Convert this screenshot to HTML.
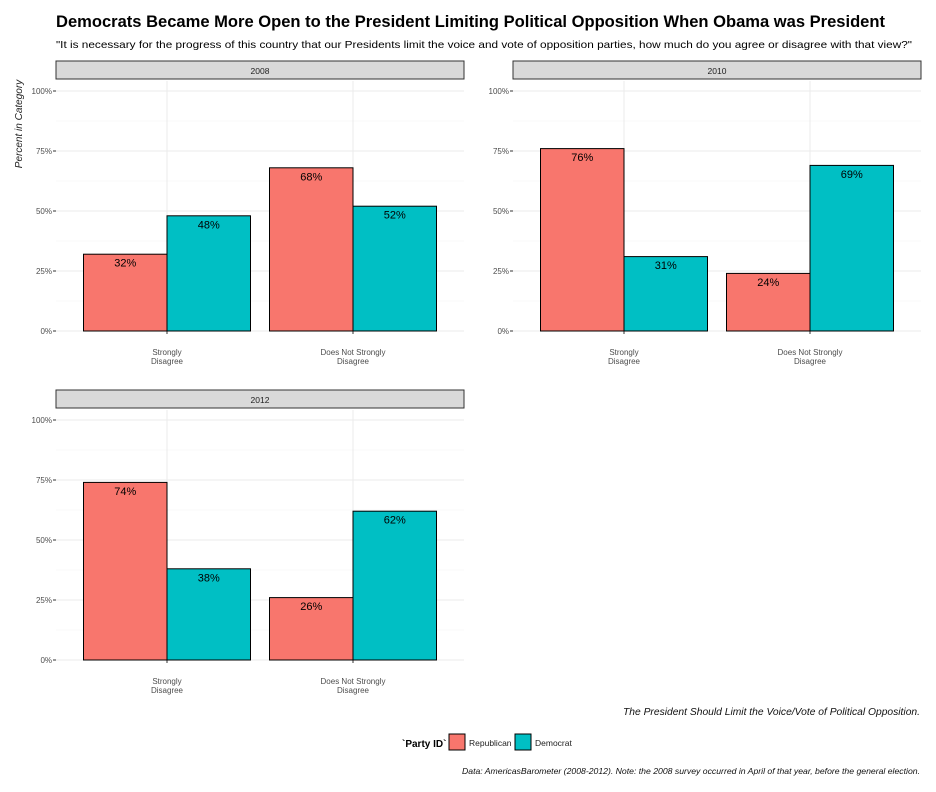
<!DOCTYPE html>
<html><head><meta charset="utf-8"><style>
body{margin:0;background:#fff;}
svg{display:block;font-family:"Liberation Sans",sans-serif;}
</style></head><body>
<svg id="chart" width="936" height="792">
<text x="56" y="27" font-size="17" font-weight="bold" fill="#000" textLength="829" lengthAdjust="spacingAndGlyphs">Democrats Became More Open to the President Limiting Political Opposition When Obama was President</text>
<text x="56" y="48" font-size="10.5" fill="#000" textLength="856" lengthAdjust="spacingAndGlyphs">"It is necessary for the progress of this country that our Presidents limit the voice and vote of opposition parties, how much do you agree or disagree with that view?"</text>
<text transform="translate(22,124) rotate(-90)" text-anchor="middle" font-size="10" font-style="italic" fill="#222">Percent in Category</text>
<text x="920" y="715" text-anchor="end" font-size="10" font-style="italic" fill="#111" textLength="297" lengthAdjust="spacingAndGlyphs">The President Should Limit the Voice/Vote of Political Opposition.</text>
<g>
<text x="402" y="747" font-size="10" font-weight="bold" fill="#000">`Party ID`</text>
<rect x="449" y="734" width="16" height="16" fill="#F8766D" stroke="#000"/>
<text x="469" y="746" font-size="8.5" fill="#222">Republican</text>
<rect x="515" y="734" width="16" height="16" fill="#00BFC4" stroke="#000"/>
<text x="535" y="746" font-size="8.5" fill="#222">Democrat</text>
</g>
<text x="920" y="774" text-anchor="end" font-size="8.5" font-style="italic" fill="#111" textLength="458" lengthAdjust="spacingAndGlyphs">Data: AmericasBarometer (2008-2012). Note: the 2008 survey occurred in April of that year, before the general election.</text>
</svg>
<script>
const years = ["2008","2010","2012"];
const categories = [["Strongly","Disagree"],["Does Not Strongly","Disagree"]];
const republican = [[32,68],[76,24],[74,26]];
const democrat = [[48,52],[31,69],[38,62]];
const ticks = [0,25,50,75,100];
const tickLabels = ["0%","25%","50%","75%","100%"];

const NS="http://www.w3.org/2000/svg";
const svg=document.getElementById('chart');
function mk(tag,attrs,parent){const e=document.createElementNS(NS,tag);for(const k in attrs)e.setAttribute(k,attrs[k]);(parent||svg).appendChild(e);return e;}
const panels=[{x:56,y:61},{x:513,y:61},{x:56,y:390}];
const W=408;
years.forEach((yr,p)=>{
  const P=panels[p];
  const g=mk('g',{});
  
  
  const top=P.y+30, bot=P.y+270;
  const ys=v=>bot-(v/100)*(bot-top);
  const xc=i=>P.x+111+i*186;
  const bw=83.5;
  const strip=mk('rect',{x:P.x,y:P.y,width:W,height:18,fill:'#d9d9d9',stroke:'#333','stroke-width':1},g);
  
  
  const st=mk('text',{x:P.x+W/2,y:P.y+13,'text-anchor':'middle','font-size':8.5,fill:'#222'},g);st.textContent=yr;
  
  
  for(let i=0;i<ticks.length-1;i++){const m=(ticks[i]+ticks[i+1])/2;mk('line',{x1:P.x,x2:P.x+W,y1:ys(m),y2:ys(m),stroke:'#f2f2f2','stroke-width':0.6},g);}
  ticks.forEach((t,i)=>{
    mk('line',{x1:P.x,x2:P.x+W,y1:ys(t),y2:ys(t),stroke:'#ebebeb','stroke-width':1},g);
    mk('line',{x1:P.x-3,x2:P.x,y1:ys(t),y2:ys(t),stroke:'#333'},g);
    const tl=mk('text',{x:P.x-4,y:ys(t)+3,'text-anchor':'end','font-size':8,fill:'#4d4d4d'},g);tl.textContent=tickLabels[i];
    
    
  });
  categories.forEach((c,i)=>{
    const cx=xc(i);
    mk('line',{x1:cx,x2:cx,y1:top-10,y2:bot,stroke:'#ebebeb'},g);
    mk('line',{x1:cx,x2:cx,y1:bot,y2:bot+3,stroke:'#333'},g);
    c.forEach((ln,k)=>{const t=mk('text',{x:cx,y:bot+24+k*9,'text-anchor':'middle','font-size':8,fill:'#4d4d4d'},g);t.textContent=ln;
      
      });
    [[republican,'#F8766D',-bw],[democrat,'#00BFC4',0]].forEach(([arr,col,off])=>{
      const v=arr[p][i];
      const r=mk('rect',{x:cx+off,y:ys(v),width:bw,height:bot-ys(v),fill:col,stroke:'#000','stroke-width':1},g);
      
      
      const lt=mk('text',{x:cx+off+bw/2,y:ys(v)+12.5,'text-anchor':'middle','font-size':11,fill:'#000'},g);lt.textContent=v+'%';
      
      
    });
  });
});
</script>
</body></html>
